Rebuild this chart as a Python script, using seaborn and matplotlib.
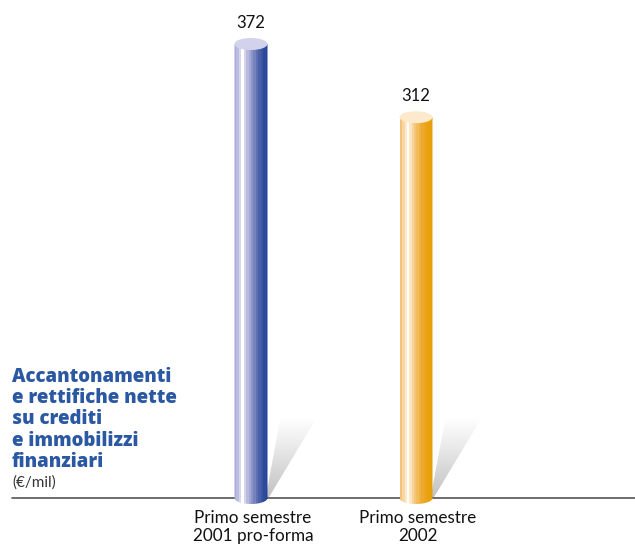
import numpy as np
import pandas as pd
import matplotlib
matplotlib.use("Agg")
import matplotlib.pyplot as plt
from matplotlib.colors import LinearSegmentedColormap
from matplotlib.patches import Ellipse, PathPatch, Polygon
from matplotlib.path import Path
import seaborn as sns

# Data
categories = ["Primo semestre\n2001 pro-forma", "Primo semestre\n2002"]
values = [372, 312]
value_labels = ["372", "312"]
title_lines = ["Accantonamenti", "e rettifiche nette", "su crediti",
               "e immobilizzi", "finanziari"]
unit_label = "(€/mil)"

sns.set_theme(style="white")
plt.rcParams["font.family"] = ["Lato", "DejaVu Sans"]

W, H = 635, 545
fig = plt.figure(figsize=(W / 100, H / 100), dpi=100)
ax = fig.add_axes([0, 0, 1, 1])

df = pd.DataFrame({"cat": categories, "val": values})
sns.barplot(data=df, x="cat", y="val", hue="cat", palette=["#2c4a9c", "#e9a20c"],
            width=0.2, legend=False, ax=ax, zorder=2)

# pixel-aligned limits: baseline 47 px from bottom, ~1.22 px per unit
px_per_unit = 454 / 372
px_per_cat = 165
ax.set_ylim(-47 / px_per_unit, 498 / px_per_unit)
ax.set_xlim(-251 / px_per_cat, 1 + 219 / px_per_cat)
ax.axis("off")

stops = [
    ["#acacd8", "#bcbce0", "#d6d6ee", "#ffffff", "#d4d4ec", "#babadf", "#a4a8d4",
     "#8c94c8", "#7482bd", "#5e70b2", "#4a60a8", "#3a54a0", "#2c4a9c", "#27449a"],
    ["#f4c27c", "#f9d7a4", "#fde8c8", "#ffffff", "#fde6c2", "#f8d39a", "#f5c67a",
     "#f2bb5c", "#efb242", "#eda92e", "#eba51e", "#e9a214", "#e8a00c", "#e69e08"],
]
top_colors = ["#d2d2ec", "#fde9cb"]
shade = LinearSegmentedColormap.from_list("shade", ["#ffffff", "#ececec", "#d6d6d6", "#c2c2c2"])

e_half = 6 / px_per_unit  # half height of the end ellipses in data units
for i, patch in enumerate(ax.patches):
    x0 = patch.get_x()
    w = patch.get_width()
    h = patch.get_height()
    x1 = x0 + w
    xc = x0 + w / 2
    patch.set_visible(False)

    # wedge-shaped shadow rising up-right from the base
    sy = 80 / px_per_unit
    shadow_pts = [(x1 - 2 / px_per_cat, 0), (x1 + 1 / px_per_cat, 0),
                  (x1 + 49 / px_per_cat, sy), (x1 + 13 / px_per_cat, sy)]
    shadow = Polygon(shadow_pts, closed=True, facecolor="none", edgecolor="none")
    ax.add_patch(shadow)
    grad = np.linspace(0, 1, 64).reshape(-1, 1)
    im_s = ax.imshow(grad, cmap=shade, aspect="auto", origin="upper",
                     extent=[x1 - 2 / px_per_cat, x1 + 49 / px_per_cat, 0, sy], zorder=1)
    im_s.set_clip_path(shadow)

    # cylinder body: rectangle with rounded bottom
    theta = np.linspace(np.pi, 2 * np.pi, 40)
    arc = np.column_stack([xc + (w / 2) * np.cos(theta), e_half * np.sin(theta)])
    verts = [(x0, h)] + [tuple(p) for p in arc] + [(x1, h), (x0, h)]
    codes = [Path.MOVETO] + [Path.LINETO] * (len(verts) - 2) + [Path.CLOSEPOLY]
    body = PathPatch(Path(verts, codes), facecolor="none", edgecolor="none")
    ax.add_patch(body)
    cmap = LinearSegmentedColormap.from_list(f"cyl{i}", stops[i], N=len(stops[i]))
    band = np.arange(len(stops[i])).reshape(1, -1)
    im = ax.imshow(band, cmap=cmap, aspect="auto", interpolation="nearest",
                   extent=[x0, x1, -e_half, h], zorder=3)
    im.set_clip_path(body)

    # top cap
    ax.add_patch(Ellipse((xc, h), w, 2 * e_half, facecolor=top_colors[i],
                         edgecolor="none", zorder=4))

    ax.text(xc, h + 13 / px_per_unit, value_labels[i], ha="center", va="bottom",
            fontsize=12, color="#111111")
    ax.text(xc + 2 / px_per_cat, -12 / px_per_unit, categories[i], ha="center", va="top",
            fontsize=12.3, color="#111111", linespacing=1.18)

# baseline
ax.plot([(12 - 251) / px_per_cat, 1 + 219 / px_per_cat], [0, 0],
        color="#555555", lw=1.2, zorder=2)

# left-hand title block, one line per baseline
baselines = [382, 403, 424, 446, 467]
for line, yb in zip(title_lines, baselines):
    fig.text(12 / W, 1 - yb / H, line, ha="left", va="baseline",
             family=["Open Sans", "DejaVu Sans"], fontsize=13.4,
             fontweight="heavy", color="#2b58a2")
fig.text(12 / W, 1 - 487 / H, unit_label, ha="left", va="baseline", fontsize=11,
         color="#333333")

fig.savefig("out.png", dpi=100)
